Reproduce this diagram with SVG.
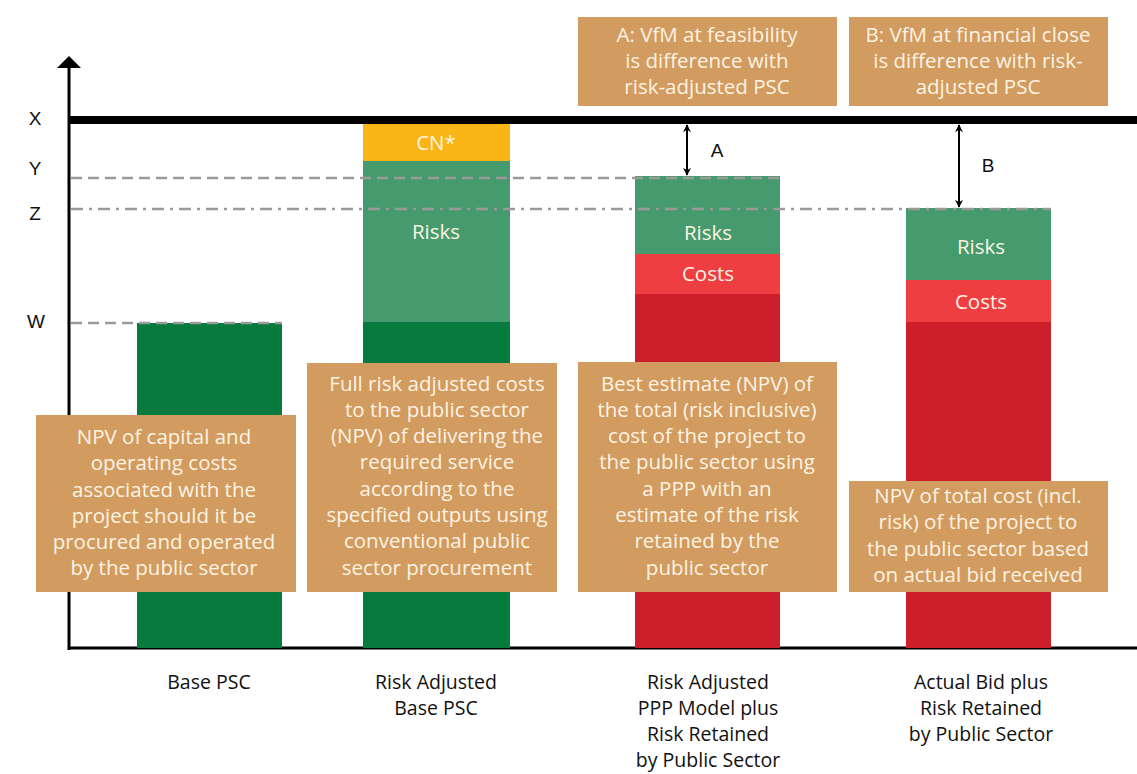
<svg xmlns="http://www.w3.org/2000/svg" width="1137" height="774" viewBox="0 0 1137 774">
<style>
.box{fill:#d29b5f}
.bt{font-family:"Open Sans","Liberation Sans",sans-serif;font-size:20.5px;fill:#fdf3e3;text-anchor:middle}
.lt{font-family:"Open Sans","Liberation Sans",sans-serif;font-size:19.5px;fill:#111;text-anchor:middle}
.ax{font-family:"Liberation Sans",sans-serif;font-size:19px;fill:#111;text-anchor:middle}
.dash{stroke:#9a9a9a;stroke-width:2.5;fill:none;stroke-dasharray:11 6}
.dd{stroke:#9a9a9a;stroke-width:2.5;fill:none;stroke-dasharray:12 6 3 6}
.arr{stroke:#000;stroke-width:2;fill:none;marker-start:url(#ah);marker-end:url(#ah)}
</style>
<defs>
<marker id="ah" viewBox="0 0 10 10" refX="9" refY="5" markerWidth="8" markerHeight="11" orient="auto-start-reverse" markerUnits="userSpaceOnUse">
<path d="M0,0 L10,5 L0,10 L3,5 z" fill="#000"/>
</marker>
</defs>
<rect width="1137" height="774" fill="#fff"/>

<g id="axes">
<line x1="69" y1="66" x2="69" y2="650" stroke="#000" stroke-width="3"/>
<polygon points="57,68 81,68 69,56" fill="#000"/>
<line x1="68" y1="648" x2="1137" y2="648" stroke="#000" stroke-width="3"/>
<line x1="69" y1="120" x2="1137" y2="120" stroke="#000" stroke-width="8"/>
<text class="ax" x="35" y="125">X</text>
<text class="ax" x="35" y="175">Y</text>
<text class="ax" x="35" y="220">Z</text>
<text class="ax" x="36" y="328">W</text>
</g>

<g id="bar-base-psc">
<rect x="137" y="323" width="145" height="325" fill="#077a3d"/>
</g>
<g id="bar-risk-adjusted-psc">
<rect x="363" y="124" width="147" height="37" fill="#fbb517"/>
<rect x="363" y="161" width="147" height="161" fill="#469b6e"/>
<rect x="363" y="322" width="147" height="326" fill="#077a3d"/>
<text class="bt" x="436" y="150">CN*</text>
<text class="bt" x="436" y="239">Risks</text>
</g>
<g id="bar-ppp">
<rect x="635" y="176" width="145" height="78" fill="#469b6e"/>
<rect x="635" y="254" width="145" height="40" fill="#ee3e42"/>
<rect x="635" y="294" width="145" height="354" fill="#cc1f29"/>
<text class="bt" x="708" y="240">Risks</text>
<text class="bt" x="708" y="281">Costs</text>
</g>
<g id="bar-actual-bid">
<rect x="906" y="208" width="145" height="72" fill="#469b6e"/>
<rect x="906" y="280" width="145" height="42" fill="#ee3e42"/>
<rect x="906" y="322" width="145" height="326" fill="#cc1f29"/>
<text class="bt" x="981" y="254">Risks</text>
<text class="bt" x="981" y="309">Costs</text>
</g>

<g id="connectors">
<line class="dash" x1="71" y1="178" x2="780" y2="178"/>
<line class="dd" x1="71" y1="209" x2="1051" y2="209"/>
<line class="dash" x1="71" y1="323" x2="282" y2="323"/>
<line class="arr" x1="687" y1="125" x2="687" y2="175"/>
<line class="arr" x1="959" y1="125" x2="959" y2="207"/>
<text class="ax" x="717" y="157">A</text>
<text class="ax" x="988" y="172">B</text>
</g>

<g id="box-a">
<rect class="box" x="578" y="17" width="259" height="89"/>
<text class="bt" x="707" y="42">A: VfM at feasibility</text>
<text class="bt" x="707" y="68">is difference with</text>
<text class="bt" x="707" y="94">risk-adjusted PSC</text>
</g>
<g id="box-b">
<rect class="box" x="849" y="17" width="259" height="89"/>
<text class="bt" x="978" y="42">B: VfM at financial close</text>
<text class="bt" x="978" y="68">is difference with risk-</text>
<text class="bt" x="978" y="94">adjusted PSC</text>
</g>

<g id="box-base-psc">
<rect class="box" x="36" y="415" width="260" height="177"/>
<text class="bt" x="164" y="444">NPV of capital and</text>
<text class="bt" x="164" y="470">operating costs</text>
<text class="bt" x="164" y="497">associated with the</text>
<text class="bt" x="164" y="523">project should it be</text>
<text class="bt" x="164" y="549">procured and operated</text>
<text class="bt" x="164" y="575">by the public sector</text>
</g>
<g id="box-risk-adjusted-psc">
<rect class="box" x="307" y="363" width="250" height="229"/>
<text class="bt" x="437" y="391">Full risk adjusted costs</text>
<text class="bt" x="437" y="417">to the public sector</text>
<text class="bt" x="437" y="443">(NPV) of delivering the</text>
<text class="bt" x="437" y="469">required service</text>
<text class="bt" x="437" y="496">according to the</text>
<text class="bt" x="437" y="522">specified outputs using</text>
<text class="bt" x="437" y="548">conventional public</text>
<text class="bt" x="437" y="575">sector procurement</text>
</g>
<g id="box-ppp">
<rect class="box" x="578" y="362" width="259" height="230"/>
<text class="bt" x="707" y="391">Best estimate (NPV) of</text>
<text class="bt" x="707" y="417">the total (risk inclusive)</text>
<text class="bt" x="707" y="443">cost of the project to</text>
<text class="bt" x="707" y="469">the public sector using</text>
<text class="bt" x="707" y="496">a PPP with an</text>
<text class="bt" x="707" y="522">estimate of the risk</text>
<text class="bt" x="707" y="548">retained by the</text>
<text class="bt" x="707" y="575">public sector</text>
</g>
<g id="box-actual-bid">
<rect class="box" x="849" y="481" width="259" height="111"/>
<text class="bt" x="978" y="503">NPV of total cost (incl.</text>
<text class="bt" x="978" y="529">risk) of the project to</text>
<text class="bt" x="978" y="556">the public sector based</text>
<text class="bt" x="978" y="582">on actual bid received</text>
</g>

<g id="labels">
<text class="lt" x="209" y="689">Base PSC</text>
<text class="lt" x="436" y="689">Risk Adjusted</text>
<text class="lt" x="436" y="715">Base PSC</text>
<text class="lt" x="708" y="689">Risk Adjusted</text>
<text class="lt" x="708" y="715">PPP Model plus</text>
<text class="lt" x="708" y="741">Risk Retained</text>
<text class="lt" x="708" y="767">by Public Sector</text>
<text class="lt" x="981" y="689">Actual Bid plus</text>
<text class="lt" x="981" y="715">Risk Retained</text>
<text class="lt" x="981" y="741">by Public Sector</text>
</g>
</svg>
